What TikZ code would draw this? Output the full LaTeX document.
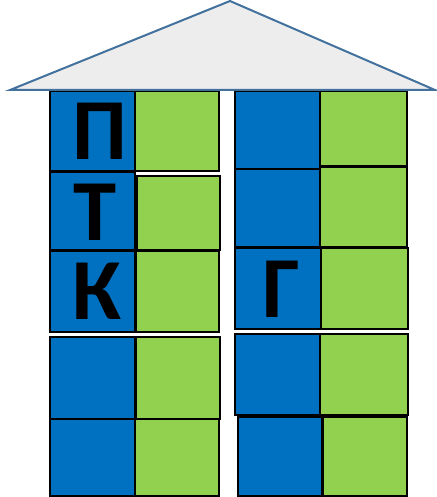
\documentclass[tikz,border=0pt]{standalone}
\usepackage{fontspec}
\setmainfont{Carlito}
\definecolor{cellblue}{HTML}{0070C0}
\definecolor{cellgreen}{HTML}{92D050}
\definecolor{roofgray}{HTML}{EDEDED}
\definecolor{roofline}{HTML}{41719C}
\begin{document}
\begin{tikzpicture}[x=1pt, y=-1pt,
  bluebox/.style={draw=black, line width=1.5pt, fill=cellblue},
  greenbox/.style={draw=black, line width=1.5pt, fill=cellgreen},
  letter/.style={inner sep=0pt, font=\bfseries\fontsize{87}{87}\selectfont}]
\useasboundingbox (0,0) rectangle (436,497);

% --- left block ---
\draw[bluebox]  (50,91)  rectangle (135,171);
\draw[greenbox] (135,91) rectangle (219,171);
\draw[bluebox]  (50,172) rectangle (135,250);
\draw[greenbox] (137,176) rectangle (220,250);
\draw[bluebox]  (50,251) rectangle (135,332);
\draw[greenbox] (136,251) rectangle (219,332);
\draw[bluebox]  (50,337) rectangle (135,419);
\draw[greenbox] (136,337) rectangle (220,419);
\draw[bluebox]  (50,419) rectangle (135,496);
\draw[greenbox] (135,419) rectangle (219,496);

% --- right block ---
\draw[bluebox]  (235,91)  rectangle (320,169);
\draw[greenbox] (320,91)  rectangle (407,166);
\draw[bluebox]  (235,169) rectangle (320,247);
\draw[greenbox] (320,167) rectangle (407,247);
\draw[bluebox]  (235,248) rectangle (321,329);
\draw[greenbox] (321,248) rectangle (408,329);
\draw[bluebox]  (235,334) rectangle (320,415);
\draw[greenbox] (320,334) rectangle (408,415);
\draw[bluebox]  (238,417) rectangle (322,496);
\draw[greenbox] (323,417) rectangle (407,496);

% letters
\node[letter] (pe)  at (100,131) {П};
\node[letter] (te)  at (95,212)  {Т};
\node[letter] (ka)  at (97,291)  {К};
\node[letter] (ge)  at (281,289) {Г};

% roof
\draw[roofline, fill=roofgray, line width=2pt, line join=miter]
  (10,90) -- (230,1) -- (435,90) -- cycle;

\end{tikzpicture}
\end{document}
